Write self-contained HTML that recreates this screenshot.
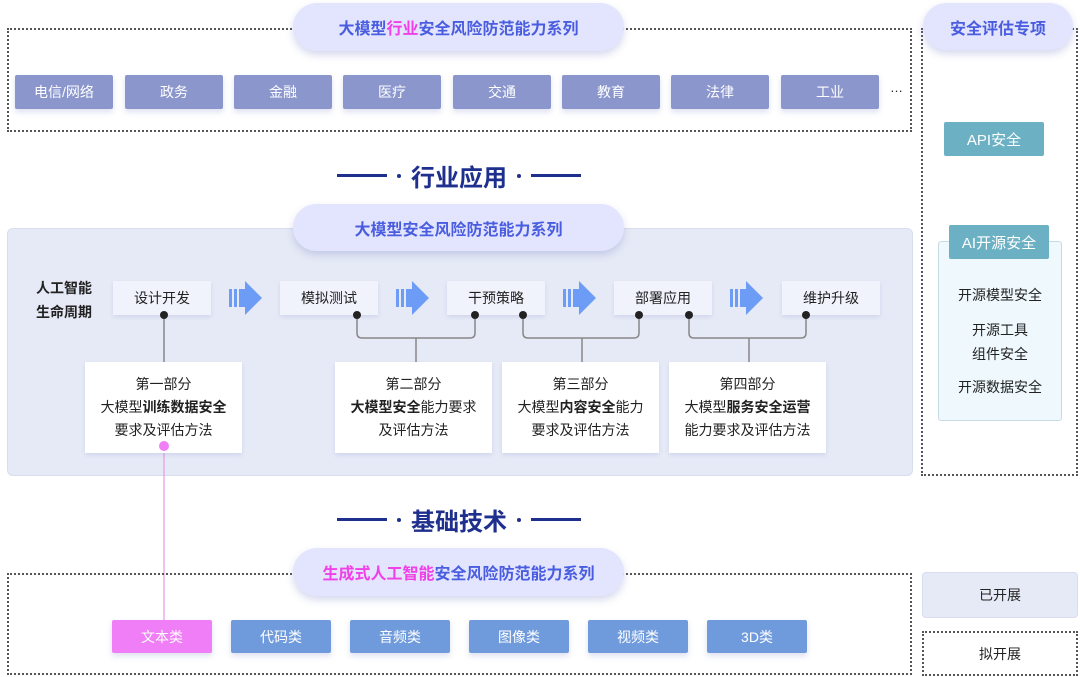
<!DOCTYPE html>
<html><head><meta charset="utf-8"><style>
*{margin:0;padding:0;box-sizing:border-box}
body{width:1080px;height:677px;background:#fff;position:relative;overflow:hidden;font-family:"Liberation Sans","Noto Sans CJK SC",sans-serif;color:#222}
.a{position:absolute}
.dash{position:absolute;border:2px dotted #555}
.pill{position:absolute;background:#e2e5fd;border-radius:24px;box-shadow:0 4px 8px rgba(120,130,200,.3);color:#4a5de0;font-weight:bold;font-size:16px;display:flex;align-items:center;justify-content:center}
.ind{position:absolute;top:75px;width:98px;height:34px;background:#8a96cc;color:#fff;font-size:14px;display:flex;align-items:center;justify-content:center;border-radius:2px;box-shadow:0 3px 6px rgba(120,130,200,.25)}
.hd{position:absolute;left:330px;width:258px;display:flex;align-items:center;justify-content:center;color:#1e2f8e;font-weight:bold;font-size:24px}
.hd i{display:inline-block;width:50px;height:3px;background:#1e2f8e}
.hd b{display:inline-block;width:4px;height:4px;border-radius:2px;background:#1e2f8e;margin:0 10px}
.st{position:absolute;top:281px;width:98px;height:34px;background:#f0f3fc;font-size:14px;display:flex;align-items:center;justify-content:center;box-shadow:0 2px 4px rgba(120,130,200,.2)}
.pt{position:absolute;top:362px;width:157px;height:91px;background:#fff;font-size:14px;line-height:23px;text-align:center;padding-top:11px;box-shadow:0 2px 4px rgba(120,130,200,.2)}
.tc{position:absolute;top:620px;width:100px;height:33px;background:#6f9bdc;color:#fff;font-size:14px;display:flex;align-items:center;justify-content:center;border-radius:2px;box-shadow:0 3px 6px rgba(120,130,200,.25)}
.pk{color:#f040e8}
</style></head><body>
<div class="dash" style="left:7px;top:28px;width:905px;height:104px"></div>
<div class="dash" style="left:921px;top:28px;width:157px;height:448px"></div>
<div class="pill" style="left:293px;top:3px;width:331px;height:48px">大模型<span class="pk">行业</span>安全风险防范能力系列</div>
<div class="pill" style="left:923px;top:3px;width:150px;height:47px">安全评估专项</div>
<div class="ind" style="left:15px">电信/网络</div>
<div class="ind" style="left:125px">政务</div>
<div class="ind" style="left:234px">金融</div>
<div class="ind" style="left:343px">医疗</div>
<div class="ind" style="left:453px">交通</div>
<div class="ind" style="left:562px">教育</div>
<div class="ind" style="left:671px">法律</div>
<div class="ind" style="left:781px">工业</div>
<div class="a" style="left:890px;top:80px;font-size:13px">…</div>
<div class="a" style="left:944px;top:122px;width:100px;height:34px;background:#6cb0c4;color:#fff;font-size:15px;display:flex;align-items:center;justify-content:center;border-radius:2px">API安全</div>
<div class="a" style="left:938px;top:241px;width:124px;height:180px;background:#eef8fd;border:1px solid #c7dbe5;border-radius:3px"></div>
<div class="a" style="left:949px;top:225px;width:100px;height:34px;background:#6cb0c4;color:#fff;font-size:15px;display:flex;align-items:center;justify-content:center;border-radius:2px">AI开源安全</div>
<div class="a" style="left:938px;top:285px;width:124px;text-align:center;font-size:14px">开源模型安全</div>
<div class="a" style="left:938px;top:318px;width:124px;text-align:center;font-size:14px;line-height:24px">开源工具<br>组件安全</div>
<div class="a" style="left:938px;top:377px;width:124px;text-align:center;font-size:14px">开源数据安全</div>

<div class="hd" style="top:158px"><i></i><b></b>行业应用<b></b><i></i></div>

<div class="a" style="left:7px;top:228px;width:906px;height:248px;background:#e6eaf6;border-radius:6px;border:1px solid #d8ddee"></div>
<div class="pill" style="left:293px;top:204px;width:331px;height:47px">大模型安全风险防范能力系列</div>
<div class="a" style="left:36px;top:276px;font-size:14px;font-weight:bold;line-height:24px">人工智能<br>生命周期</div>
<div class="st" style="left:113px">设计开发</div>
<div class="st" style="left:280px">模拟测试</div>
<div class="st" style="left:447px">干预策略</div>
<div class="st" style="left:614px">部署应用</div>
<div class="st" style="left:782px">维护升级</div>
<svg class="a" style="left:0;top:0" width="1080" height="677">
<g fill="#6c9cf5">
<g transform="translate(229,289)"><rect x="0" y="0" width="3" height="18"/><rect x="5" y="0" width="3" height="18"/><rect x="10" y="0" width="6" height="18"/><polygon points="16,-8 33,9 16,26"/></g>
<g transform="translate(396,289)"><rect x="0" y="0" width="3" height="18"/><rect x="5" y="0" width="3" height="18"/><rect x="10" y="0" width="6" height="18"/><polygon points="16,-8 33,9 16,26"/></g>
<g transform="translate(563,289)"><rect x="0" y="0" width="3" height="18"/><rect x="5" y="0" width="3" height="18"/><rect x="10" y="0" width="6" height="18"/><polygon points="16,-8 33,9 16,26"/></g>
<g transform="translate(730,289)"><rect x="0" y="0" width="3" height="18"/><rect x="5" y="0" width="3" height="18"/><rect x="10" y="0" width="6" height="18"/><polygon points="16,-8 33,9 16,26"/></g>
</g>
<g fill="none" stroke="#888" stroke-width="1.5">
<path d="M164 315V362"/>
<path d="M357 315V333q0 5 5 5H470q5 0 5-5V315M416 338V362"/>
<path d="M523 315V333q0 5 5 5H634q5 0 5-5V315M582 338V362"/>
<path d="M689 315V333q0 5 5 5H801q5 0 5-5V315M749 338V362"/>
</g>
<g fill="#222"><circle cx="164" cy="315" r="4"/><circle cx="357" cy="315" r="4"/><circle cx="475" cy="315" r="4"/><circle cx="523" cy="315" r="4"/><circle cx="639" cy="315" r="4"/><circle cx="689" cy="315" r="4"/><circle cx="806" cy="315" r="4"/></g>
<line x1="164" y1="446" x2="164" y2="620" stroke="#e49be6" stroke-width="1.2"/>
</svg>
<div class="pt" style="left:85px">第一部分<br>大模型<b>训练数据安全</b><br>要求及评估方法</div>
<div class="pt" style="left:335px">第二部分<br><b>大模型安全</b>能力要求<br>及评估方法</div>
<div class="pt" style="left:502px">第三部分<br>大模型<b>内容安全</b>能力<br>要求及评估方法</div>
<div class="pt" style="left:669px">第四部分<br>大模型<b>服务安全运营</b><br>能力要求及评估方法</div>
<svg class="a" style="left:158px;top:440px" width="12" height="12"><circle cx="6" cy="6" r="5" fill="#f07ef6"/></svg>

<div class="hd" style="top:502px"><i></i><b></b>基础技术<b></b><i></i></div>

<div class="dash" style="left:7px;top:573px;width:905px;height:102px"></div>
<div class="pill" style="left:293px;top:548px;width:331px;height:48px"><span class="pk">生成式人工智能</span>安全风险防范能力系列</div>
<div class="tc" style="left:112px;background:#f07ef6">文本类</div>
<div class="tc" style="left:231px">代码类</div>
<div class="tc" style="left:350px">音频类</div>
<div class="tc" style="left:469px">图像类</div>
<div class="tc" style="left:588px">视频类</div>
<div class="tc" style="left:707px">3D类</div>
<div class="a" style="left:922px;top:572px;width:156px;height:46px;background:#e6eaf6;border:1px solid #d8ddee;border-radius:4px;font-size:14px;display:flex;align-items:center;justify-content:center">已开展</div>
<div class="dash" style="left:922px;top:631px;width:156px;height:45px;font-size:14px;display:flex;align-items:center;justify-content:center">拟开展</div>
</body></html>
